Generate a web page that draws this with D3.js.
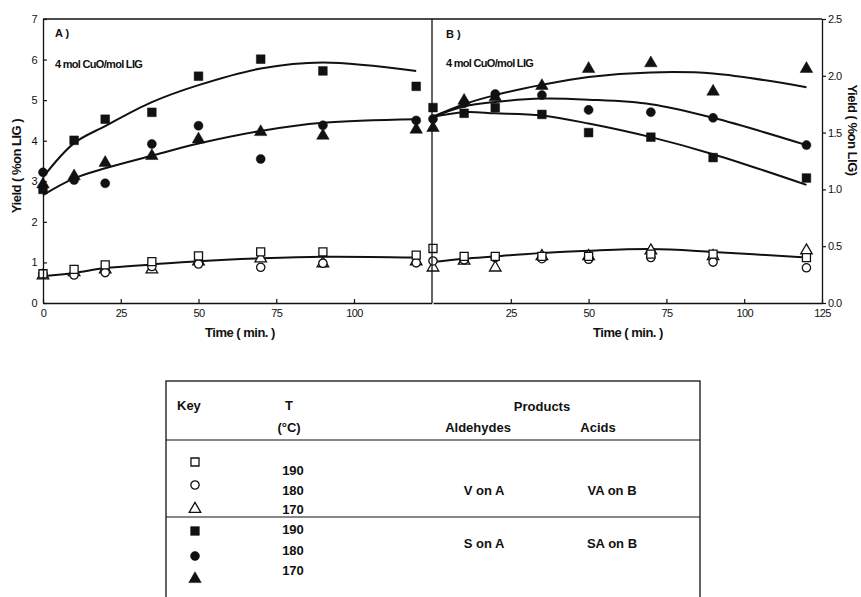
<!DOCTYPE html>
<html>
<head>
<meta charset="utf-8">
<script src="https://cdn.jsdelivr.net/npm/d3@7"></script>
<style>
  body { margin: 0; background: #fff; }
  svg { display: block; }
  text { font-family: "Liberation Sans", Arial, sans-serif; fill: #111; }
  .tick text { font-size: 11px; letter-spacing: -0.6px; }
  .bold { font-weight: bold; }
</style>
</head>
<body>
<script>
// sampling times (min.)
var times = [0, 10, 20, 35, 50, 70, 90, 120];

// Panel A: aldehydes (% on LIG)
var aS190 = [2.80, 4.01, 4.53, 4.70, 5.59, 6.01, 5.72, 5.34];
var aS180 = [3.22, 3.03, 2.95, 3.92, 4.37, 3.55, 4.38, 4.50];
var aS170 = [2.95, 3.15, 3.48, 3.65, 4.06, 4.24, 4.15, 4.30];
var aV190 = [0.72, 0.83, 0.94, 1.02, 1.16, 1.26, 1.26, 1.18];
var aV180 = [0.72, 0.69, 0.75, 0.90, 0.96, 0.88, 0.98, 0.99];
var aV170 = [0.70, 0.78, 0.85, 0.85, 1.05, 1.12, 1.00, 1.05];
// fitted curves
var aFitS190 = [3.10, 3.94, 4.36, 4.95, 5.37, 5.78, 5.93, 5.72];
var aFitS = [2.66, 3.07, 3.32, 3.63, 3.93, 4.24, 4.44, 4.53];
var aFitV = [0.66, 0.74, 0.86, 0.95, 1.03, 1.10, 1.14, 1.12];

// Panel B: acids (% on LIG)
var bS190 = [1.72, 1.67, 1.72, 1.66, 1.50, 1.46, 1.28, 1.10];
var bS180 = [1.62, 1.76, 1.84, 1.83, 1.70, 1.68, 1.63, 1.39];
var bS170 = [1.55, 1.79, 1.82, 1.92, 2.07, 2.12, 1.87, 2.07];
var bV190 = [0.48, 0.41, 0.41, 0.41, 0.41, 0.43, 0.43, 0.40];
var bV180 = [0.37, 0.38, 0.40, 0.39, 0.385, 0.40, 0.36, 0.31];
var bV170 = [0.32, 0.38, 0.32, 0.42, 0.42, 0.47, 0.42, 0.47];
var bFit170 = [1.64, 1.75, 1.83, 1.92, 1.99, 2.03, 2.02, 1.90];
var bFit180 = [1.64, 1.73, 1.77, 1.80, 1.79, 1.75, 1.63, 1.39];
var bFit190 = [1.64, 1.68, 1.67, 1.65, 1.58, 1.46, 1.31, 1.04];
var bFitV = [0.36, 0.39, 0.41, 0.44, 0.46, 0.475, 0.45, 0.40];

// ticks
var xTicksA = [0, 25, 50, 75, 100];
var xTicksB = [25, 50, 75, 100, 125];
var yTicksA = [0, 1, 2, 3, 4, 5, 6, 7];
var yTicksB = [0, 0.5, 1.0, 1.5, 2.0, 2.5];

// key table
var keyTemps = ["190", "180", "170", "190", "180", "170"];
var keyShapes = ["square", "circle", "triangle", "square", "circle", "triangle"];
var keyFilled = [false, false, false, true, true, true];

var W = 861, H = 597;
var plotTop = 19, plotBot = 303;
var axA = 43, axB = 433, axR = 822;

var svg = d3.select("body").append("svg")
    .attr("width", W)
    .attr("height", H);

var xA = d3.scaleLinear().domain([0, 125]).range([axA, axA + 125 * 3.11]);
var xB = d3.scaleLinear().domain([0, 125]).range([axB, axR]);
var yA = d3.scaleLinear().domain([0, 7]).range([plotBot, plotTop]);
var yB = d3.scaleLinear().domain([0, 2.5]).range([plotBot, plotTop]);

var symbolType = { square: d3.symbolSquare, circle: d3.symbolCircle, triangle: d3.symbolTriangle };
var symbolSize = { square: 76, circle: 64, triangle: 68 };

function marker(g, shape, filled, x, y) {
  var size = filled ? symbolSize[shape] : symbolSize[shape] * 0.85;
  g.append("path")
      .attr("d", d3.symbol().type(symbolType[shape]).size(size)())
      .attr("transform", "translate(" + x + "," + (shape == "triangle" ? y + 1 : y) + ")")
      .attr("fill", filled ? "#111" : "#fff")
      .attr("stroke", "#111")
      .attr("stroke-width", filled ? 0.5 : 1.3);
}

function drawCurve(x, y, vals) {
  var line = d3.line()
      .x(function(d, i) { return x(times[i]); })
      .y(function(d) { return y(d); })
      .curve(d3.curveCatmullRom);
  svg.append("path")
      .datum(vals)
      .attr("d", line)
      .attr("fill", "none")
      .attr("stroke", "#111")
      .attr("stroke-width", 2);
}

function drawSeries(x, y, vals, shape, filled) {
  var g = svg.append("g");
  vals.forEach(function(v, i) { marker(g, shape, filled, x(times[i]), y(v)); });
}

// curves
[aFitS190, aFitS, aFitV].forEach(function(c) { drawCurve(xA, yA, c); });
[bFit170, bFit180, bFit190, bFitV].forEach(function(c) { drawCurve(xB, yB, c); });

// open markers first, then filled
drawSeries(xA, yA, aV170, "triangle", false);
drawSeries(xA, yA, aV180, "circle", false);
drawSeries(xA, yA, aV190, "square", false);
drawSeries(xA, yA, aS170, "triangle", true);
drawSeries(xA, yA, aS180, "circle", true);
drawSeries(xA, yA, aS190, "square", true);

drawSeries(xB, yB, bV170, "triangle", false);
drawSeries(xB, yB, bV180, "circle", false);
drawSeries(xB, yB, bV190, "square", false);
drawSeries(xB, yB, bS170, "triangle", true);
drawSeries(xB, yB, bS180, "circle", true);
drawSeries(xB, yB, bS190, "square", true);

// axes
function styleAxis(g) {
  g.selectAll(".domain").attr("stroke", "#111").attr("stroke-width", 1.3);
  g.selectAll(".tick line").attr("stroke", "#111").attr("stroke-width", 1.2);
  g.selectAll(".tick text").attr("fill", "#111");
}

svg.append("g")
    .attr("transform", "translate(0," + plotBot + ")")
    .call(d3.axisBottom(xA).tickValues(xTicksA).tickSizeInner(-4).tickSizeOuter(0).tickPadding(6))
    .call(styleAxis);

svg.append("g")
    .attr("transform", "translate(0," + plotBot + ")")
    .call(d3.axisBottom(xB).tickValues(xTicksB).tickSizeInner(-4).tickSizeOuter(0).tickPadding(6))
    .call(styleAxis);

svg.append("g")
    .attr("transform", "translate(" + axA + ",0)")
    .call(d3.axisLeft(yA).tickValues(yTicksA).tickFormat(d3.format("d")).tickSizeInner(-4).tickSizeOuter(0).tickPadding(6))
    .call(styleAxis);

svg.append("g")
    .attr("transform", "translate(" + axR + ",0)")
    .call(d3.axisRight(yB).tickValues(yTicksB).tickFormat(d3.format(".1f")).tickSizeInner(4).tickSizeOuter(0).tickPadding(2))
    .call(styleAxis);

// frame: top line and divider
svg.append("line").attr("x1", axA).attr("x2", axR).attr("y1", plotTop).attr("y2", plotTop)
    .attr("stroke", "#111").attr("stroke-width", 1.3);
svg.append("line").attr("x1", axB - 1).attr("x2", axB - 1).attr("y1", plotTop).attr("y2", plotBot)
    .attr("stroke", "#111").attr("stroke-width", 1.3);

// panel labels
svg.append("text").attr("class", "bold").attr("x", 55).attr("y", 37)
    .style("font-size", "11px").text("A )");
svg.append("text").attr("x", 55).attr("y", 68)
    .style("font-size", "11px").style("letter-spacing", "-0.7px").style("font-weight", "bold").text("4 mol CuO/mol LIG");
svg.append("text").attr("class", "bold").attr("x", 446).attr("y", 38)
    .style("font-size", "11px").text("B )");
svg.append("text").attr("x", 446).attr("y", 67)
    .style("font-size", "11px").style("letter-spacing", "-0.7px").style("font-weight", "bold").text("4 mol CuO/mol LIG");

// axis titles
svg.append("text").attr("class", "bold").attr("x", 240).attr("y", 337)
    .attr("text-anchor", "middle").style("font-size", "13px").style("letter-spacing", "-0.5px").text("Time ( min. )");
svg.append("text").attr("class", "bold").attr("x", 628).attr("y", 337)
    .attr("text-anchor", "middle").style("font-size", "13px").style("letter-spacing", "-0.5px").text("Time ( min. )");
svg.append("text").attr("class", "bold")
    .attr("transform", "translate(21,166) rotate(-90)")
    .attr("text-anchor", "middle").style("font-size", "13px").style("letter-spacing", "-0.5px").text("Yield ( %on LIG )");
svg.append("text").attr("class", "bold")
    .attr("transform", "translate(848,130) rotate(90)")
    .attr("text-anchor", "middle").style("font-size", "13px").style("letter-spacing", "-0.5px").text("Yield ( %on LIG)");

// key table
var tb = svg.append("g");
var tL = 166, tR = 700, tT = 381, tH1 = 440, tH2 = 517, tBot = 600;
tb.append("rect").attr("x", tL).attr("y", tT).attr("width", tR - tL).attr("height", tBot - tT)
    .attr("fill", "none").attr("stroke", "#111").attr("stroke-width", 1.3);
[tH1, tH2].forEach(function(y) {
  tb.append("line").attr("x1", tL).attr("x2", tR).attr("y1", y).attr("y2", y)
      .attr("stroke", "#111").attr("stroke-width", 1.2);
});

function tText(x, y, s, anchor) {
  tb.append("text").attr("class", "bold").attr("x", x).attr("y", y)
      .attr("text-anchor", anchor || "middle").style("font-size", "13px").text(s);
}
tText(177, 410, "Key", "start");
tText(289, 410, "T");
tText(289, 432, "(°C)");
tText(542, 411, "Products");
tText(478, 432, "Aldehydes");
tText(598, 432, "Acids");
tText(484, 495, "V on A");
tText(612, 495, "VA on B");
tText(484, 548, "S on A");
tText(612, 548, "SA on B");

var keyY = [462, 485, 508, 531, 556, 578];
var tempY = [475, 495, 514, 534, 555, 575];
keyShapes.forEach(function(s, i) {
  marker(tb, s, keyFilled[i], 195, keyY[i]);
  tText(293, tempY[i], keyTemps[i]);
});
</script>
</body>
</html>
